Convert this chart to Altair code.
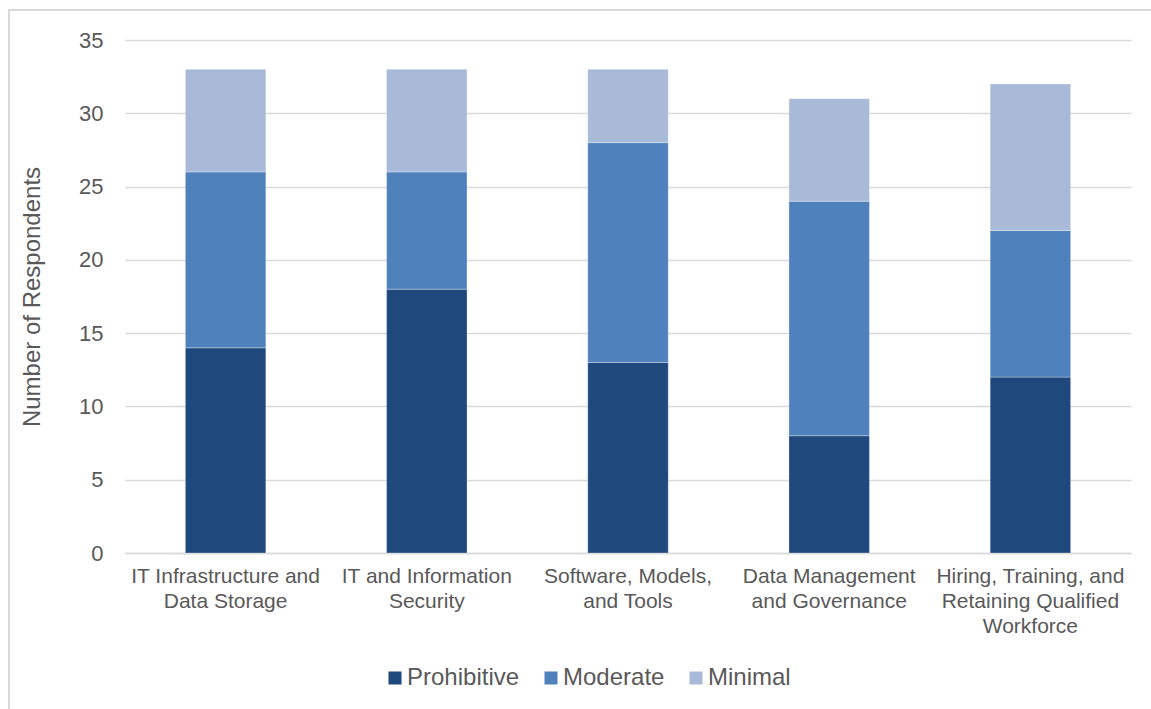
import altair as alt
import pandas as pd

# Barrier categories (line breaks mark where the axis labels wrap)
categories = [
    "IT Infrastructure and\nData Storage",
    "IT and Information\nSecurity",
    "Software, Models,\nand Tools",
    "Data Management\nand Governance",
    "Hiring, Training, and\nRetaining Qualified\nWorkforce",
]
levels = ["Prohibitive", "Moderate", "Minimal"]
prohibitive = [14, 18, 13, 8, 12]
moderate = [12, 8, 15, 16, 10]
minimal = [7, 7, 5, 7, 10]
colors = ["#1F497D", "#4F81BD", "#A9B9D8"]

rows = []
for i, cat in enumerate(categories):
    for j, (lvl, vals) in enumerate(zip(levels, [prohibitive, moderate, minimal])):
        rows.append({"category": cat, "level": lvl, "order": j, "count": vals[i]})
df = pd.DataFrame(rows)

TEXT = "#595959"
FONT = "Liberation Sans"
W, H = 1006, 513

bars = alt.Chart(df).mark_bar(stroke="white", strokeWidth=0.6, strokeOpacity=0.5).encode(
    x=alt.X(
        "category:N",
        sort=categories,
        title=None,
        scale=alt.Scale(paddingInner=0.6, paddingOuter=0.3),
        axis=alt.Axis(
            labelExpr="split(datum.label, '\\n')",
            labelAngle=0,
            labelFontSize=21,
            labelLineHeight=25,
            labelColor=TEXT,
            labelFont=FONT,
            labelPadding=12,
            ticks=False,
            domain=True,
            domainColor="#d9d9d9",
            domainWidth=1.5,
            grid=False,
            labelLimit=400,
        ),
    ),
    y=alt.Y(
        "count:Q",
        stack="zero",
        title="Number of Respondents",
        scale=alt.Scale(domain=[0, 35]),
        axis=alt.Axis(
            values=[0, 5, 10, 15, 20, 25, 30, 35],
            labelFontSize=22,
            labelColor=TEXT,
            labelFont=FONT,
            labelPadding=22,
            ticks=False,
            domain=False,
            gridColor="#d9d9d9",
            gridWidth=1.3,
            titleFontSize=24,
            titleFont=FONT,
            titleColor=TEXT,
            titleFontWeight="normal",
            titlePadding=34,
        ),
    ),
    color=alt.Color(
        "level:N",
        scale=alt.Scale(domain=levels, range=colors),
        legend=alt.Legend(
            title=None,
            orient="none",
            direction="horizontal",
            legendX=258,
            legendY=113 + H,
            symbolType="square",
            symbolSize=170,
            symbolStrokeWidth=0,
            labelFontSize=24,
            labelFont=FONT,
            labelColor=TEXT,
            labelOffset=0,
            columnPadding=19,
        ),
    ),
    order=alt.Order("order:Q", sort="ascending"),
)

# Light outer frame around the chart
frame = alt.Chart(pd.DataFrame({"k": [0]})).mark_rect(
    fill=None, stroke="#d9d9d9", strokeWidth=2
).encode(
    x=alt.value(-116),
    x2=alt.value(W + 40),
    y=alt.value(-30),
    y2=alt.value(H + 200),
)

chart = alt.layer(frame, bars).properties(
    width=W,
    height=H,
    padding={"left": 125, "top": 40, "right": 20, "bottom": 156},
    autosize=alt.AutoSizeParams(type="none"),
    background="white",
).configure_view(stroke=None)

chart.save("out.html", embed_options={"renderer": "svg", "actions": False})
